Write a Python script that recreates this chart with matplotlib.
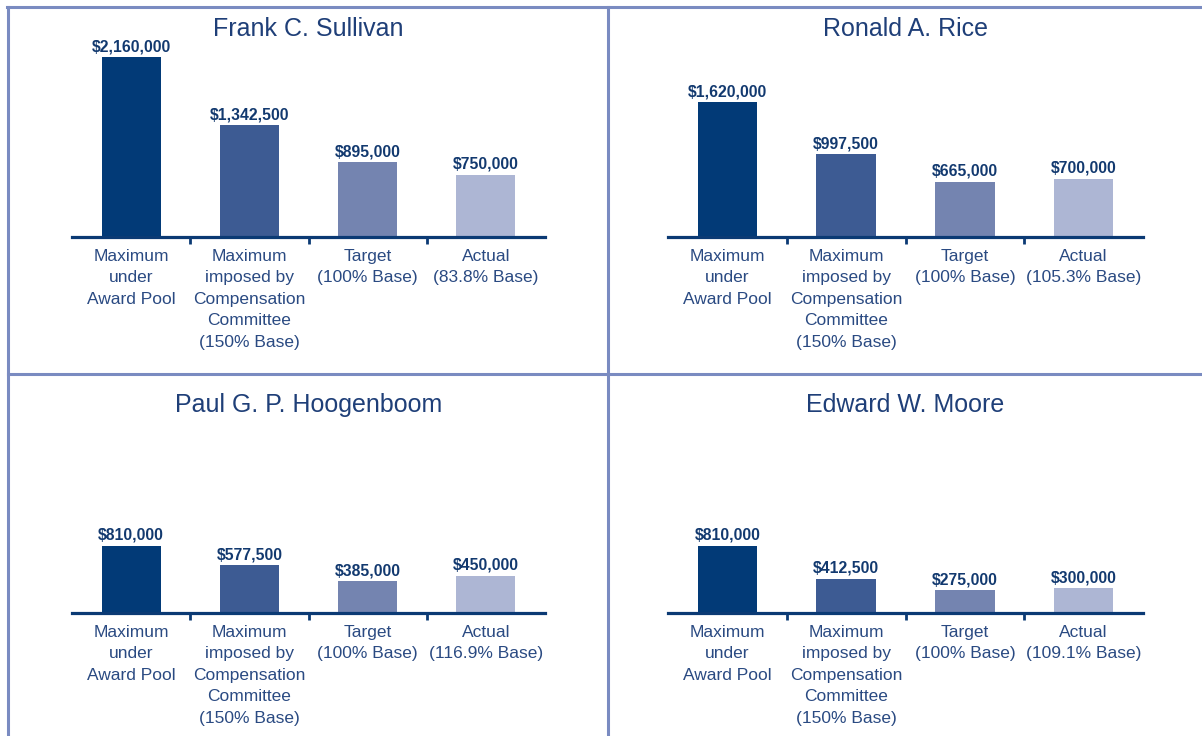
import matplotlib
matplotlib.use("Agg")
import matplotlib.pyplot as plt
from matplotlib.lines import Line2D

plt.rcParams['font.family'] = ['Liberation Sans', 'DejaVu Sans']

# ---- data ----
names = ["Frank C. Sullivan", "Ronald A. Rice", "Paul G. P. Hoogenboom", "Edward W. Moore"]
sullivan = [2160000, 1342500, 895000, 750000]
rice = [1620000, 997500, 665000, 700000]
hoogenboom = [810000, 577500, 385000, 450000]
moore = [810000, 412500, 275000, 300000]
series = [sullivan, rice, hoogenboom, moore]
cat_common = ["Maximum\nunder\nAward Pool",
              "Maximum\nimposed by\nCompensation\nCommittee\n(150% Base)",
              "Target\n(100% Base)"]
actual_labels = ["Actual\n(83.8% Base)", "Actual\n(105.3% Base)",
                 "Actual\n(116.9% Base)", "Actual\n(109.1% Base)"]

bar_colors = ['#023A77', '#3D5B93', '#7484B0', '#ADB6D4']
dark = '#0B3A74'
title_col = '#1F3F78'
val_col = '#12396F'
cat_col = '#2A4A82'
border_col = '#7A8BC1'

W, H = 1202, 736
fig = plt.figure(figsize=(W / 100, H / 100), dpi=100)

# panel geometry in pixels (left x, right x, baseline y)
panels = [(72, 545, 237), (668, 1143, 237), (72, 545, 613), (668, 1143, 613)]
ymax = 2.6e6
px_per_unit = 83.33 / 1e6
ax_h = ymax * px_per_unit

for k, (x0, x1, yb) in enumerate(panels):
    ax = fig.add_axes([x0 / W, (H - yb) / H, (x1 - x0) / W, ax_h / H])
    vals = series[k]
    cats = cat_common + [actual_labels[k]]
    xs = list(range(len(vals)))
    ax.bar(xs, vals, width=0.5, color=bar_colors, zorder=2)
    ax.set_xlim(-0.5, 3.5)
    ax.set_ylim(0, ymax)
    for s in ['top', 'left', 'right']:
        ax.spines[s].set_visible(False)
    ax.spines['bottom'].set_color(dark)
    ax.spines['bottom'].set_linewidth(2.3)
    ax.spines['bottom'].set_zorder(3)
    ax.set_yticks([])
    ax.set_xticks([0.5, 1.5, 2.5])
    ax.set_xticklabels([])
    ax.tick_params(axis='x', direction='out', length=5, width=2, color=dark)
    ax.patch.set_alpha(0)
    for x, v, c in zip(xs, vals, cats):
        ax.annotate(f"${v:,.0f}", (x, v), xytext=(0, 2), textcoords='offset points',
                    ha='center', va='bottom', fontsize=11.3, fontweight='bold',
                    color=val_col)
        ax.annotate(c, (x, 0), xytext=(0, -8.5), textcoords='offset points',
                    ha='center', va='top', fontsize=12.5, color=cat_col,
                    linespacing=1.54, annotation_clip=False)
    fig.text(((x0 + x1) / 2) / W, (H - (yb - 208)) / H, names[k],
             ha='center', va='center', fontsize=18, color=title_col)

# borders
def pline(xa, ya, xb, yb):
    fig.add_artist(Line2D([xa / W, xb / W], [(H - ya) / H, (H - yb) / H],
                          transform=fig.transFigure, color=border_col, lw=2.2))

pline(7, 7, W, 7)
pline(8, 7, 8, H)
pline(607.5, 7, 607.5, H)
pline(8, 373.5, W, 373.5)

fig.savefig("out.png", dpi=100, facecolor='white')
